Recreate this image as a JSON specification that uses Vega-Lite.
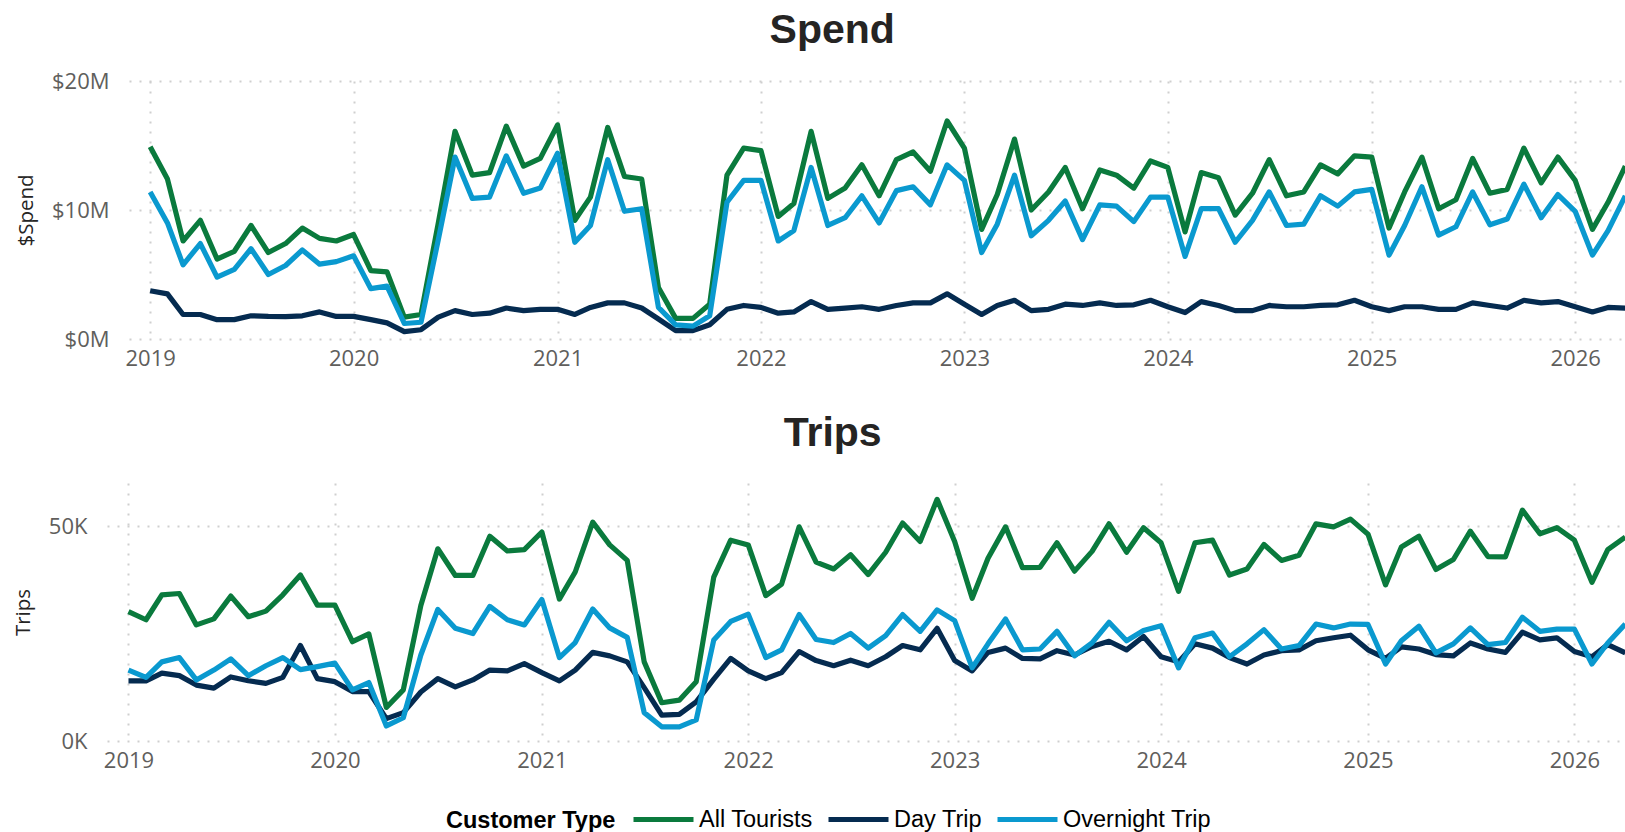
{
"$schema": "https://vega.github.io/schema/vega-lite/v6.json",
"background": "white",
"padding": {"left": 13, "top": 10, "right": 0, "bottom": 50},
"autosize": {"type": "pad"},
"data": {"values": [
{"date":"2019-01-01","type":"All Tourists","spend":14.9,"trips":30.1},
{"date":"2019-02-01","type":"All Tourists","spend":12.4,"trips":28.2},
{"date":"2019-03-01","type":"All Tourists","spend":7.6,"trips":34.0},
{"date":"2019-04-01","type":"All Tourists","spend":9.2,"trips":34.3},
{"date":"2019-05-01","type":"All Tourists","spend":6.2,"trips":27.0},
{"date":"2019-06-01","type":"All Tourists","spend":6.8,"trips":28.4},
{"date":"2019-07-01","type":"All Tourists","spend":8.8,"trips":33.7},
{"date":"2019-08-01","type":"All Tourists","spend":6.7,"trips":28.9},
{"date":"2019-09-01","type":"All Tourists","spend":7.4,"trips":30.2},
{"date":"2019-10-01","type":"All Tourists","spend":8.6,"trips":34.0},
{"date":"2019-11-01","type":"All Tourists","spend":7.8,"trips":38.6},
{"date":"2019-12-01","type":"All Tourists","spend":7.6,"trips":31.6},
{"date":"2020-01-01","type":"All Tourists","spend":8.1,"trips":31.6},
{"date":"2020-02-01","type":"All Tourists","spend":5.3,"trips":23.1},
{"date":"2020-03-01","type":"All Tourists","spend":5.2,"trips":24.9},
{"date":"2020-04-01","type":"All Tourists","spend":1.7,"trips":7.8},
{"date":"2020-05-01","type":"All Tourists","spend":1.9,"trips":11.9},
{"date":"2020-06-01","type":"All Tourists","spend":9.0,"trips":31.5},
{"date":"2020-07-01","type":"All Tourists","spend":16.1,"trips":44.7},
{"date":"2020-08-01","type":"All Tourists","spend":12.7,"trips":38.5},
{"date":"2020-09-01","type":"All Tourists","spend":12.9,"trips":38.5},
{"date":"2020-10-01","type":"All Tourists","spend":16.5,"trips":47.6},
{"date":"2020-11-01","type":"All Tourists","spend":13.4,"trips":44.2},
{"date":"2020-12-01","type":"All Tourists","spend":14.0,"trips":44.5},
{"date":"2021-01-01","type":"All Tourists","spend":16.6,"trips":48.6},
{"date":"2021-02-01","type":"All Tourists","spend":9.2,"trips":33.0},
{"date":"2021-03-01","type":"All Tourists","spend":11.0,"trips":39.3},
{"date":"2021-04-01","type":"All Tourists","spend":16.4,"trips":50.9},
{"date":"2021-05-01","type":"All Tourists","spend":12.6,"trips":45.6},
{"date":"2021-06-01","type":"All Tourists","spend":12.4,"trips":42.0},
{"date":"2021-07-01","type":"All Tourists","spend":4.0,"trips":18.4},
{"date":"2021-08-01","type":"All Tourists","spend":1.6,"trips":8.9},
{"date":"2021-09-01","type":"All Tourists","spend":1.6,"trips":9.5},
{"date":"2021-10-01","type":"All Tourists","spend":2.7,"trips":13.8},
{"date":"2021-11-01","type":"All Tourists","spend":12.7,"trips":38.1},
{"date":"2021-12-01","type":"All Tourists","spend":14.8,"trips":46.7},
{"date":"2022-01-01","type":"All Tourists","spend":14.6,"trips":45.6},
{"date":"2022-02-01","type":"All Tourists","spend":9.5,"trips":33.8},
{"date":"2022-03-01","type":"All Tourists","spend":10.5,"trips":36.5},
{"date":"2022-04-01","type":"All Tourists","spend":16.1,"trips":49.8},
{"date":"2022-05-01","type":"All Tourists","spend":10.9,"trips":41.6},
{"date":"2022-06-01","type":"All Tourists","spend":11.7,"trips":40.0},
{"date":"2022-07-01","type":"All Tourists","spend":13.5,"trips":43.3},
{"date":"2022-08-01","type":"All Tourists","spend":11.1,"trips":38.7},
{"date":"2022-09-01","type":"All Tourists","spend":13.9,"trips":43.9},
{"date":"2022-10-01","type":"All Tourists","spend":14.5,"trips":50.7},
{"date":"2022-11-01","type":"All Tourists","spend":13.0,"trips":46.4},
{"date":"2022-12-01","type":"All Tourists","spend":16.9,"trips":56.2},
{"date":"2023-01-01","type":"All Tourists","spend":14.8,"trips":46.4},
{"date":"2023-02-01","type":"All Tourists","spend":8.5,"trips":33.2},
{"date":"2023-03-01","type":"All Tourists","spend":11.2,"trips":42.5},
{"date":"2023-04-01","type":"All Tourists","spend":15.5,"trips":49.8},
{"date":"2023-05-01","type":"All Tourists","spend":10.0,"trips":40.3},
{"date":"2023-06-01","type":"All Tourists","spend":11.4,"trips":40.4},
{"date":"2023-07-01","type":"All Tourists","spend":13.3,"trips":46.1},
{"date":"2023-08-01","type":"All Tourists","spend":10.1,"trips":39.5},
{"date":"2023-09-01","type":"All Tourists","spend":13.1,"trips":44.1},
{"date":"2023-10-01","type":"All Tourists","spend":12.7,"trips":50.5},
{"date":"2023-11-01","type":"All Tourists","spend":11.7,"trips":43.9},
{"date":"2023-12-01","type":"All Tourists","spend":13.8,"trips":49.6},
{"date":"2024-01-01","type":"All Tourists","spend":13.3,"trips":46.1},
{"date":"2024-02-01","type":"All Tourists","spend":8.3,"trips":34.8},
{"date":"2024-03-01","type":"All Tourists","spend":12.9,"trips":46.1},
{"date":"2024-04-01","type":"All Tourists","spend":12.5,"trips":46.7},
{"date":"2024-05-01","type":"All Tourists","spend":9.6,"trips":38.6},
{"date":"2024-06-01","type":"All Tourists","spend":11.3,"trips":40.0},
{"date":"2024-07-01","type":"All Tourists","spend":13.9,"trips":45.7},
{"date":"2024-08-01","type":"All Tourists","spend":11.1,"trips":42.0},
{"date":"2024-09-01","type":"All Tourists","spend":11.4,"trips":43.2},
{"date":"2024-10-01","type":"All Tourists","spend":13.5,"trips":50.5},
{"date":"2024-11-01","type":"All Tourists","spend":12.8,"trips":49.8},
{"date":"2024-12-01","type":"All Tourists","spend":14.2,"trips":51.6},
{"date":"2025-01-01","type":"All Tourists","spend":14.1,"trips":48.1},
{"date":"2025-02-01","type":"All Tourists","spend":8.6,"trips":36.3},
{"date":"2025-03-01","type":"All Tourists","spend":11.4,"trips":45.1},
{"date":"2025-04-01","type":"All Tourists","spend":14.1,"trips":47.6},
{"date":"2025-05-01","type":"All Tourists","spend":10.1,"trips":39.9},
{"date":"2025-06-01","type":"All Tourists","spend":10.8,"trips":42.2},
{"date":"2025-07-01","type":"All Tourists","spend":14.0,"trips":48.8},
{"date":"2025-08-01","type":"All Tourists","spend":11.3,"trips":42.9},
{"date":"2025-09-01","type":"All Tourists","spend":11.6,"trips":42.8},
{"date":"2025-10-01","type":"All Tourists","spend":14.8,"trips":53.7},
{"date":"2025-11-01","type":"All Tourists","spend":12.1,"trips":48.2},
{"date":"2025-12-01","type":"All Tourists","spend":14.1,"trips":49.6},
{"date":"2026-01-01","type":"All Tourists","spend":12.3,"trips":46.7},
{"date":"2026-02-01","type":"All Tourists","spend":8.5,"trips":36.9},
{"date":"2026-03-01","type":"All Tourists","spend":10.6,"trips":44.5},
{"date":"2026-04-01","type":"All Tourists","spend":13.4,"trips":47.4},
{"date":"2019-01-01","type":"Day Trip","spend":3.74,"trips":14.0},
{"date":"2019-02-01","type":"Day Trip","spend":3.5,"trips":14.0},
{"date":"2019-03-01","type":"Day Trip","spend":1.9,"trips":15.8},
{"date":"2019-04-01","type":"Day Trip","spend":1.9,"trips":15.2},
{"date":"2019-05-01","type":"Day Trip","spend":1.5,"trips":13.0},
{"date":"2019-06-01","type":"Day Trip","spend":1.5,"trips":12.3},
{"date":"2019-07-01","type":"Day Trip","spend":1.8,"trips":14.9},
{"date":"2019-08-01","type":"Day Trip","spend":1.75,"trips":14.0},
{"date":"2019-09-01","type":"Day Trip","spend":1.73,"trips":13.4},
{"date":"2019-10-01","type":"Day Trip","spend":1.8,"trips":14.8},
{"date":"2019-11-01","type":"Day Trip","spend":2.1,"trips":22.2},
{"date":"2019-12-01","type":"Day Trip","spend":1.75,"trips":14.5},
{"date":"2020-01-01","type":"Day Trip","spend":1.75,"trips":13.8},
{"date":"2020-02-01","type":"Day Trip","spend":1.5,"trips":11.5},
{"date":"2020-03-01","type":"Day Trip","spend":1.25,"trips":11.5},
{"date":"2020-04-01","type":"Day Trip","spend":0.57,"trips":5.2},
{"date":"2020-05-01","type":"Day Trip","spend":0.72,"trips":6.6},
{"date":"2020-06-01","type":"Day Trip","spend":1.7,"trips":11.4},
{"date":"2020-07-01","type":"Day Trip","spend":2.2,"trips":14.5},
{"date":"2020-08-01","type":"Day Trip","spend":1.9,"trips":12.6},
{"date":"2020-09-01","type":"Day Trip","spend":2.0,"trips":14.2},
{"date":"2020-10-01","type":"Day Trip","spend":2.4,"trips":16.5},
{"date":"2020-11-01","type":"Day Trip","spend":2.2,"trips":16.3},
{"date":"2020-12-01","type":"Day Trip","spend":2.3,"trips":18.0},
{"date":"2021-01-01","type":"Day Trip","spend":2.3,"trips":15.9},
{"date":"2021-02-01","type":"Day Trip","spend":1.9,"trips":14.0},
{"date":"2021-03-01","type":"Day Trip","spend":2.45,"trips":16.5},
{"date":"2021-04-01","type":"Day Trip","spend":2.8,"trips":20.6},
{"date":"2021-05-01","type":"Day Trip","spend":2.8,"trips":19.8},
{"date":"2021-06-01","type":"Day Trip","spend":2.4,"trips":18.4},
{"date":"2021-07-01","type":"Day Trip","spend":1.55,"trips":12.4},
{"date":"2021-08-01","type":"Day Trip","spend":0.65,"trips":6.0},
{"date":"2021-09-01","type":"Day Trip","spend":0.65,"trips":6.2},
{"date":"2021-10-01","type":"Day Trip","spend":1.1,"trips":9.1},
{"date":"2021-11-01","type":"Day Trip","spend":2.3,"trips":14.4},
{"date":"2021-12-01","type":"Day Trip","spend":2.6,"trips":19.2},
{"date":"2022-01-01","type":"Day Trip","spend":2.45,"trips":16.3},
{"date":"2022-02-01","type":"Day Trip","spend":2.0,"trips":14.5},
{"date":"2022-03-01","type":"Day Trip","spend":2.1,"trips":15.9},
{"date":"2022-04-01","type":"Day Trip","spend":2.9,"trips":20.8},
{"date":"2022-05-01","type":"Day Trip","spend":2.3,"trips":18.7},
{"date":"2022-06-01","type":"Day Trip","spend":2.4,"trips":17.5},
{"date":"2022-07-01","type":"Day Trip","spend":2.5,"trips":18.8},
{"date":"2022-08-01","type":"Day Trip","spend":2.3,"trips":17.5},
{"date":"2022-09-01","type":"Day Trip","spend":2.6,"trips":19.6},
{"date":"2022-10-01","type":"Day Trip","spend":2.8,"trips":22.2},
{"date":"2022-11-01","type":"Day Trip","spend":2.8,"trips":21.2},
{"date":"2022-12-01","type":"Day Trip","spend":3.5,"trips":26.2},
{"date":"2023-01-01","type":"Day Trip","spend":2.7,"trips":18.7},
{"date":"2023-02-01","type":"Day Trip","spend":1.9,"trips":16.3},
{"date":"2023-03-01","type":"Day Trip","spend":2.6,"trips":20.6},
{"date":"2023-04-01","type":"Day Trip","spend":3.0,"trips":21.6},
{"date":"2023-05-01","type":"Day Trip","spend":2.2,"trips":19.2},
{"date":"2023-06-01","type":"Day Trip","spend":2.3,"trips":19.1},
{"date":"2023-07-01","type":"Day Trip","spend":2.7,"trips":21.0},
{"date":"2023-08-01","type":"Day Trip","spend":2.6,"trips":20.0},
{"date":"2023-09-01","type":"Day Trip","spend":2.8,"trips":22.0},
{"date":"2023-10-01","type":"Day Trip","spend":2.6,"trips":23.2},
{"date":"2023-11-01","type":"Day Trip","spend":2.65,"trips":21.2},
{"date":"2023-12-01","type":"Day Trip","spend":3.0,"trips":24.3},
{"date":"2024-01-01","type":"Day Trip","spend":2.5,"trips":19.6},
{"date":"2024-02-01","type":"Day Trip","spend":2.05,"trips":18.4},
{"date":"2024-03-01","type":"Day Trip","spend":2.9,"trips":22.6},
{"date":"2024-04-01","type":"Day Trip","spend":2.6,"trips":21.6},
{"date":"2024-05-01","type":"Day Trip","spend":2.2,"trips":19.4},
{"date":"2024-06-01","type":"Day Trip","spend":2.2,"trips":17.9},
{"date":"2024-07-01","type":"Day Trip","spend":2.6,"trips":20.0},
{"date":"2024-08-01","type":"Day Trip","spend":2.5,"trips":21.0},
{"date":"2024-09-01","type":"Day Trip","spend":2.5,"trips":21.2},
{"date":"2024-10-01","type":"Day Trip","spend":2.6,"trips":23.3},
{"date":"2024-11-01","type":"Day Trip","spend":2.65,"trips":24.0},
{"date":"2024-12-01","type":"Day Trip","spend":3.0,"trips":24.6},
{"date":"2025-01-01","type":"Day Trip","spend":2.5,"trips":21.2},
{"date":"2025-02-01","type":"Day Trip","spend":2.2,"trips":19.2},
{"date":"2025-03-01","type":"Day Trip","spend":2.5,"trips":21.9},
{"date":"2025-04-01","type":"Day Trip","spend":2.5,"trips":21.4},
{"date":"2025-05-01","type":"Day Trip","spend":2.3,"trips":20.1},
{"date":"2025-06-01","type":"Day Trip","spend":2.3,"trips":19.8},
{"date":"2025-07-01","type":"Day Trip","spend":2.8,"trips":22.8},
{"date":"2025-08-01","type":"Day Trip","spend":2.6,"trips":21.4},
{"date":"2025-09-01","type":"Day Trip","spend":2.4,"trips":20.6},
{"date":"2025-10-01","type":"Day Trip","spend":3.0,"trips":25.3},
{"date":"2025-11-01","type":"Day Trip","spend":2.8,"trips":23.5},
{"date":"2025-12-01","type":"Day Trip","spend":2.9,"trips":24.0},
{"date":"2026-01-01","type":"Day Trip","spend":2.5,"trips":20.8},
{"date":"2026-02-01","type":"Day Trip","spend":2.1,"trips":19.6},
{"date":"2026-03-01","type":"Day Trip","spend":2.45,"trips":22.4},
{"date":"2026-04-01","type":"Day Trip","spend":2.4,"trips":20.5},
{"date":"2019-01-01","type":"Overnight Trip","spend":11.4,"trips":16.5},
{"date":"2019-02-01","type":"Overnight Trip","spend":9.0,"trips":14.8},
{"date":"2019-03-01","type":"Overnight Trip","spend":5.75,"trips":18.4},
{"date":"2019-04-01","type":"Overnight Trip","spend":7.4,"trips":19.4},
{"date":"2019-05-01","type":"Overnight Trip","spend":4.8,"trips":14.2},
{"date":"2019-06-01","type":"Overnight Trip","spend":5.4,"trips":16.5},
{"date":"2019-07-01","type":"Overnight Trip","spend":7.0,"trips":19.1},
{"date":"2019-08-01","type":"Overnight Trip","spend":5.0,"trips":15.2},
{"date":"2019-09-01","type":"Overnight Trip","spend":5.7,"trips":17.5},
{"date":"2019-10-01","type":"Overnight Trip","spend":6.9,"trips":19.4},
{"date":"2019-11-01","type":"Overnight Trip","spend":5.8,"trips":16.6},
{"date":"2019-12-01","type":"Overnight Trip","spend":6.0,"trips":17.3},
{"date":"2020-01-01","type":"Overnight Trip","spend":6.45,"trips":18.1},
{"date":"2020-02-01","type":"Overnight Trip","spend":3.9,"trips":11.9},
{"date":"2020-03-01","type":"Overnight Trip","spend":4.1,"trips":13.6},
{"date":"2020-04-01","type":"Overnight Trip","spend":1.2,"trips":3.5},
{"date":"2020-05-01","type":"Overnight Trip","spend":1.3,"trips":5.4},
{"date":"2020-06-01","type":"Overnight Trip","spend":7.7,"trips":20.0},
{"date":"2020-07-01","type":"Overnight Trip","spend":14.1,"trips":30.6},
{"date":"2020-08-01","type":"Overnight Trip","spend":10.9,"trips":26.2},
{"date":"2020-09-01","type":"Overnight Trip","spend":11.0,"trips":25.0},
{"date":"2020-10-01","type":"Overnight Trip","spend":14.2,"trips":31.3},
{"date":"2020-11-01","type":"Overnight Trip","spend":11.3,"trips":28.2},
{"date":"2020-12-01","type":"Overnight Trip","spend":11.7,"trips":27.0},
{"date":"2021-01-01","type":"Overnight Trip","spend":14.4,"trips":32.9},
{"date":"2021-02-01","type":"Overnight Trip","spend":7.5,"trips":19.4},
{"date":"2021-03-01","type":"Overnight Trip","spend":8.8,"trips":22.9},
{"date":"2021-04-01","type":"Overnight Trip","spend":13.9,"trips":30.7},
{"date":"2021-05-01","type":"Overnight Trip","spend":9.9,"trips":26.3},
{"date":"2021-06-01","type":"Overnight Trip","spend":10.1,"trips":24.1},
{"date":"2021-07-01","type":"Overnight Trip","spend":2.45,"trips":6.6},
{"date":"2021-08-01","type":"Overnight Trip","spend":1.1,"trips":3.3},
{"date":"2021-09-01","type":"Overnight Trip","spend":1.0,"trips":3.3},
{"date":"2021-10-01","type":"Overnight Trip","spend":1.8,"trips":4.9},
{"date":"2021-11-01","type":"Overnight Trip","spend":10.6,"trips":23.5},
{"date":"2021-12-01","type":"Overnight Trip","spend":12.3,"trips":27.8},
{"date":"2022-01-01","type":"Overnight Trip","spend":12.3,"trips":29.5},
{"date":"2022-02-01","type":"Overnight Trip","spend":7.6,"trips":19.4},
{"date":"2022-03-01","type":"Overnight Trip","spend":8.4,"trips":21.2},
{"date":"2022-04-01","type":"Overnight Trip","spend":13.3,"trips":29.4},
{"date":"2022-05-01","type":"Overnight Trip","spend":8.8,"trips":23.6},
{"date":"2022-06-01","type":"Overnight Trip","spend":9.4,"trips":22.9},
{"date":"2022-07-01","type":"Overnight Trip","spend":11.1,"trips":25.0},
{"date":"2022-08-01","type":"Overnight Trip","spend":9.0,"trips":21.6},
{"date":"2022-09-01","type":"Overnight Trip","spend":11.5,"trips":24.5},
{"date":"2022-10-01","type":"Overnight Trip","spend":11.8,"trips":29.4},
{"date":"2022-11-01","type":"Overnight Trip","spend":10.4,"trips":25.5},
{"date":"2022-12-01","type":"Overnight Trip","spend":13.5,"trips":30.5},
{"date":"2023-01-01","type":"Overnight Trip","spend":12.3,"trips":28.0},
{"date":"2023-02-01","type":"Overnight Trip","spend":6.7,"trips":17.0},
{"date":"2023-03-01","type":"Overnight Trip","spend":8.9,"trips":22.6},
{"date":"2023-04-01","type":"Overnight Trip","spend":12.7,"trips":28.4},
{"date":"2023-05-01","type":"Overnight Trip","spend":8.0,"trips":21.2},
{"date":"2023-06-01","type":"Overnight Trip","spend":9.2,"trips":21.4},
{"date":"2023-07-01","type":"Overnight Trip","spend":10.7,"trips":25.5},
{"date":"2023-08-01","type":"Overnight Trip","spend":7.7,"trips":19.8},
{"date":"2023-09-01","type":"Overnight Trip","spend":10.4,"trips":22.8},
{"date":"2023-10-01","type":"Overnight Trip","spend":10.3,"trips":27.6},
{"date":"2023-11-01","type":"Overnight Trip","spend":9.1,"trips":23.3},
{"date":"2023-12-01","type":"Overnight Trip","spend":11.0,"trips":25.7},
{"date":"2024-01-01","type":"Overnight Trip","spend":11.0,"trips":26.8},
{"date":"2024-02-01","type":"Overnight Trip","spend":6.4,"trips":17.0},
{"date":"2024-03-01","type":"Overnight Trip","spend":10.1,"trips":24.0},
{"date":"2024-04-01","type":"Overnight Trip","spend":10.1,"trips":25.1},
{"date":"2024-05-01","type":"Overnight Trip","spend":7.5,"trips":19.6},
{"date":"2024-06-01","type":"Overnight Trip","spend":9.2,"trips":22.6},
{"date":"2024-07-01","type":"Overnight Trip","spend":11.4,"trips":25.9},
{"date":"2024-08-01","type":"Overnight Trip","spend":8.8,"trips":21.4},
{"date":"2024-09-01","type":"Overnight Trip","spend":8.9,"trips":22.2},
{"date":"2024-10-01","type":"Overnight Trip","spend":11.1,"trips":27.2},
{"date":"2024-11-01","type":"Overnight Trip","spend":10.3,"trips":26.3},
{"date":"2024-12-01","type":"Overnight Trip","spend":11.4,"trips":27.2},
{"date":"2025-01-01","type":"Overnight Trip","spend":11.6,"trips":27.1},
{"date":"2025-02-01","type":"Overnight Trip","spend":6.5,"trips":17.9},
{"date":"2025-03-01","type":"Overnight Trip","spend":8.8,"trips":23.3},
{"date":"2025-04-01","type":"Overnight Trip","spend":11.8,"trips":26.7},
{"date":"2025-05-01","type":"Overnight Trip","spend":8.05,"trips":20.5},
{"date":"2025-06-01","type":"Overnight Trip","spend":8.7,"trips":22.6},
{"date":"2025-07-01","type":"Overnight Trip","spend":11.4,"trips":26.3},
{"date":"2025-08-01","type":"Overnight Trip","spend":8.85,"trips":22.4},
{"date":"2025-09-01","type":"Overnight Trip","spend":9.3,"trips":22.9},
{"date":"2025-10-01","type":"Overnight Trip","spend":12.0,"trips":28.8},
{"date":"2025-11-01","type":"Overnight Trip","spend":9.4,"trips":25.5},
{"date":"2025-12-01","type":"Overnight Trip","spend":11.2,"trips":26.0},
{"date":"2026-01-01","type":"Overnight Trip","spend":9.9,"trips":26.0},
{"date":"2026-02-01","type":"Overnight Trip","spend":6.5,"trips":17.9},
{"date":"2026-03-01","type":"Overnight Trip","spend":8.4,"trips":22.8},
{"date":"2026-04-01","type":"Overnight Trip","spend":11.1,"trips":27.2}
]},
"config": {
  "view": {"stroke": null},
  "axis": {"domain": false, "ticks": false, "tickSize": 0, "labelFont": "Open Sans", "labelColor": "#605E5C", "labelFontSize": 22, "grid": true, "gridColor": "#CFCFCF", "gridDash": [2, 8], "gridWidth": 2, "titleFont": "Open Sans", "titleFontSize": 20.5, "titleColor": "#252423", "titleFontWeight": "normal"},
  "axisX": {"labelPadding": 9},
  "axisY": {"labelPadding": 20, "titlePadding": 15},
  "title": {"font": "Liberation Sans", "fontSize": 41, "fontWeight": "bold", "color": "#252423", "anchor": "middle", "frame": "bounds", "baseline": "alphabetic"}
},
"vconcat": [
{
  "title": {"text": "Spend", "dx": 10, "offset": 18},
  "width": 1520, "height": 258,
  "mark": {"type": "line", "strokeWidth": 5.2, "strokeJoin": "round"},
  "encoding": {
    "x": {"field": "date", "type": "temporal",
      "scale": {"type": "utc", "range": [22, 1520], "domain": [{"year": 2018, "month": 11, "date": 24, "utc": true}, {"year": 2026, "month": 4, "date": 4, "utc": true}]},
      "axis": {"title": null, "format": "%Y", "values": [{"year": 2019, "month": 1, "date": 1, "utc": true}, {"year": 2020, "month": 1, "date": 1, "utc": true}, {"year": 2021, "month": 1, "date": 1, "utc": true}, {"year": 2022, "month": 1, "date": 1, "utc": true}, {"year": 2023, "month": 1, "date": 1, "utc": true}, {"year": 2024, "month": 1, "date": 1, "utc": true}, {"year": 2025, "month": 1, "date": 1, "utc": true}, {"year": 2026, "month": 1, "date": 1, "utc": true}]}},
    "y": {"field": "spend", "type": "quantitative", "scale": {"domain": [0, 20]},
      "axis": {"title": "$Spend", "titleFontSize": 20.5, "offset": -22, "values": [0, 10, 20], "labelExpr": "'$' + datum.value + 'M'"}},
    "color": {"field": "type", "type": "nominal", "title": "Customer Type",
      "scale": {"domain": ["All Tourists", "Day Trip", "Overnight Trip"], "range": ["#0A7A3D", "#052B50", "#0A99CF"]},
      "legend": {"orient": "none", "direction": "horizontal", "legendX": 339, "legendY": 706, "titleOrient": "left", "titleAnchor": "middle", "titleBaseline": "top", "symbolType": "stroke", "symbolSize": 3600, "symbolStrokeWidth": 5, "labelFont": "Liberation Sans", "labelFontSize": 23.5, "labelColor": "#000000", "titleFont": "Liberation Sans", "titleFontSize": 23.5, "titleFontWeight": "bold", "titleColor": "#000000", "titlePadding": 15, "labelOffset": 3, "columnPadding": 5, "padding": 0, "labelLimit": 300}}
  }
},
{
  "title": {"text": "Trips", "dx": 12, "offset": 28.5},
  "width": 1520, "height": 258,
  "mark": {"type": "line", "strokeWidth": 5.2, "strokeJoin": "round"},
  "encoding": {
    "x": {"field": "date", "type": "temporal",
      "scale": {"type": "utc", "domain": [{"year": 2018, "month": 11, "date": 24, "utc": true}, {"year": 2026, "month": 4, "date": 4, "utc": true}]},
      "axis": {"title": null, "format": "%Y", "values": [{"year": 2019, "month": 1, "date": 1, "utc": true}, {"year": 2020, "month": 1, "date": 1, "utc": true}, {"year": 2021, "month": 1, "date": 1, "utc": true}, {"year": 2022, "month": 1, "date": 1, "utc": true}, {"year": 2023, "month": 1, "date": 1, "utc": true}, {"year": 2024, "month": 1, "date": 1, "utc": true}, {"year": 2025, "month": 1, "date": 1, "utc": true}, {"year": 2026, "month": 1, "date": 1, "utc": true}]}},
    "y": {"field": "trips", "type": "quantitative", "scale": {"domain": [0, 60]},
      "axis": {"title": "Trips", "titleFontSize": 20.5, "values": [0, 50], "labelExpr": "datum.value + 'K'"}},
    "color": {"field": "type", "type": "nominal", "title": "Customer Type",
      "scale": {"domain": ["All Tourists", "Day Trip", "Overnight Trip"], "range": ["#0A7A3D", "#052B50", "#0A99CF"]}}
  }
}
],
"spacing": 43,
"resolve": {"scale": {"color": "shared", "x": "independent", "y": "independent"}, "legend": {"color": "shared"}}
}
